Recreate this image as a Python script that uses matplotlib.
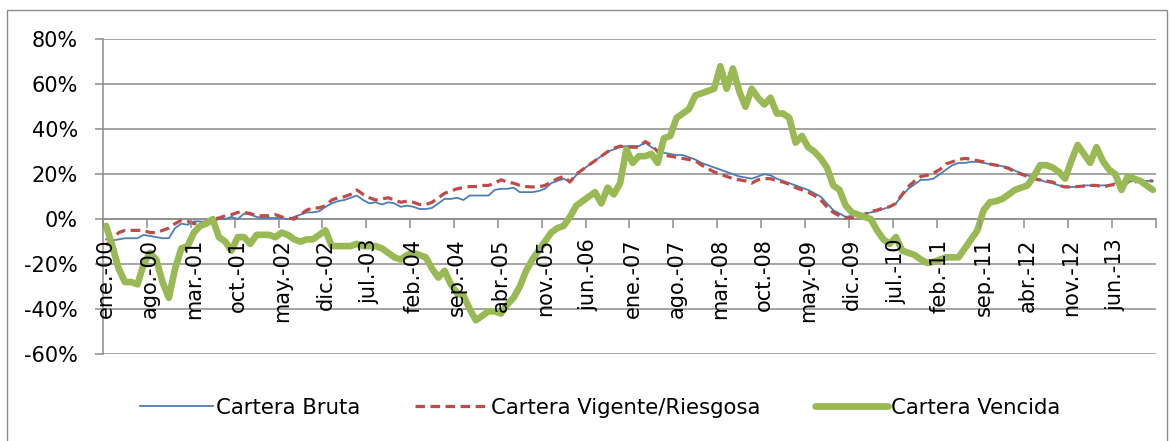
import matplotlib
matplotlib.use("Agg")
import matplotlib.pyplot as plt
import matplotlib.patches as mpatches
import numpy as np

# ---------------- data (growth rates, %) ----------------
years = list(range(2000, 2014))
month_abbr = ["ene.", "feb.", "mar.", "abr.", "may.", "jun.",
              "jul.", "ago.", "sep.", "oct.", "nov.", "dic."]

cartera_bruta = [
    -9, -9.5, -9, -8.5, -8.5, -8.5, -7, -7.5, -8, -8.5, -8.5, -4,          # 2000
    -2, -2.5, -1, -1, -1.5, -1, 0, 0, 1, 0, 2.5, 2,                        # 2001
    1, 0.5, 0.5, 0.5, 0.5, 0, 1, 2, 3, 3, 3.5, 5.5,                        # 2002
    7, 8, 8.5, 9.5, 10.5, 8.5, 7, 7.5, 6.5, 7.5, 7, 5.5,                   # 2003
    6, 5.5, 4.5, 4.5, 5, 7, 9, 9, 9.5, 8.5, 10.5, 10.5,                    # 2004
    10.5, 10.5, 13, 13.5, 13.5, 14, 12, 12, 12, 12.5, 13.5, 16,            # 2005
    17, 18, 16.5, 19.5, 22, 24, 26, 28, 30, 31, 32, 32.5,                  # 2006
    32.5, 32.5, 34, 32, 30.5, 29.5, 29, 28.5, 28.5, 27.5, 26.5, 25,        # 2007
    24, 23, 22, 21, 20, 19, 18.5, 18, 19, 20, 19.5, 18,                    # 2008
    17, 16, 15, 14, 13, 11.5, 10, 7, 4, 2.5, 1, 1.5,                       # 2009
    2, 2.5, 3, 3.5, 4.5, 5.5, 7, 10.5, 13.5, 15.5, 17.5, 17.5,             # 2010
    18, 20, 22, 24, 25, 25, 25.5, 25.5, 25, 24.5, 24, 23.5,                # 2011
    23, 21.5, 20.5, 19.5, 18.5, 17.5, 16.5, 16, 15, 14.5, 14.3, 14.3,      # 2012
    15, 15, 15, 15, 15, 16, 16, 16.5, 17, 17, 17, 17,                      # 2013
]

cartera_vigente = [
    -11.5, -9, -6, -5, -5, -5, -5, -6, -6, -5, -4, -2,                     # 2000
    -0.5, -1, -2, -2, -1, 0, 0.5, 1.5, 2, 3, 3, 2.5,                       # 2001
    1.5, 1.5, 1.5, 2, 1, 0.5, 0, 2, 4, 5, 5, 6,                            # 2002
    8.5, 9.5, 10, 11, 13, 11, 9.5, 8.5, 9, 9.5, 8.5, 7.5,                  # 2003
    8, 7.5, 6.5, 6.5, 7.5, 9.5, 11.5, 12.5, 13.5, 14, 14.5, 14.5,          # 2004
    15, 15, 16, 17.5, 16.5, 16, 15, 14.5, 14.3, 14.3, 15, 16.5,            # 2005
    18, 19, 16.5, 20, 22, 24, 26, 28, 30, 31.5, 32.5, 32,                  # 2006
    32, 32, 34.5, 33, 30, 28.5, 28, 27.5, 27, 26.5, 26, 24,                # 2007
    22.5, 21, 20, 19, 18, 17.5, 17, 16, 17.5, 18, 18, 17,                  # 2008
    16.5, 15.5, 14, 13, 12, 10.5, 8.5, 5.5, 3, 1.5, 0.5, 0.5,              # 2009
    2, 2, 3.5, 4, 5, 5.5, 7, 11, 14.5, 17, 19, 19.5,                       # 2010
    20.5, 22, 24.5, 25.5, 26.5, 27, 26.7, 26, 25.5, 24.5, 24, 23.5,        # 2011
    22.5, 21, 20, 19, 18, 17.4, 17, 16.5, 15, 14.3, 14.3, 14.5,            # 2012
    14.7, 15, 15, 14.3, 15, 15.5, 16, 16.5, 16.5, 17, 17, 17,              # 2013
]

cartera_vencida = [
    -3, -12, -22, -28, -28, -29, -20, -15, -18, -28, -35, -22,             # 2000
    -13, -12, -6, -3, -2, 0, -8, -10, -14, -8, -8, -11,                    # 2001
    -7, -7, -7, -8, -6, -7, -9, -10, -9, -9, -7, -5,                       # 2002
    -12, -12, -12, -12, -11, -12, -12, -12, -13, -15, -17, -18,            # 2003
    -16, -15, -16, -17, -22, -26, -23, -29, -33, -34, -40, -45,            # 2004
    -43, -41, -41, -42, -38, -35, -30, -23, -18, -14, -10, -6,             # 2005
    -4, -3, 1, 6, 8, 10, 12, 7, 14, 11, 16, 31,                            # 2006
    25, 28, 28, 29, 25, 36, 37, 45, 47, 49, 55, 56,                        # 2007
    57, 58, 68, 58, 67, 57, 50, 58, 54, 51, 54, 47,                        # 2008
    47, 45, 34, 37, 32, 30, 27, 23, 15, 13, 6, 3,                          # 2009
    2, 1, 0, -5, -9, -11, -8, -14, -15, -16, -18, -19.5,                   # 2010
    -19, -18, -17, -17, -17, -13, -9, -5, 4, 7.5, 8, 9,                    # 2011
    11, 13, 14, 15, 19, 24, 24, 23, 21, 18, 26, 33,                        # 2012
    29, 25, 32, 26, 22, 20, 13, 19, 18, 17, 15, 13,                        # 2013
]

series_names = ["Cartera Bruta", "Cartera Vigente/Riesgosa", "Cartera Vencida"]
y_ticks = [-60, -40, -20, 0, 20, 40, 60, 80]
label_step = 7

# ---------------- derived ----------------
months = [f"{m}-{str(y)[2:]}" for y in years for m in month_abbr]
n = len(months)
x = np.arange(n)

# ---------------- figure ----------------
W, H, DPI = 1170, 441, 100
fig = plt.figure(figsize=(W / DPI, H / DPI), dpi=DPI)
plt.rcParams['font.family'] = ['DejaVu Sans']

# outer chart border
border = mpatches.Rectangle((7 / W, -0.05), (1167 - 7) / W, 1 - 10 / H + 0.05,
                            transform=fig.transFigure, fill=False,
                            edgecolor='#8c8c8c', linewidth=1.0)
fig.patches.append(border)

ax = fig.add_axes([103 / W, 1 - 354 / H, (1156 - 103) / W, (354 - 39.3) / H])

grid_col = '#8c8c8c'
for yt in y_ticks:
    ax.axhline(yt, color=grid_col, lw=1.1, zorder=0.5)

ax.plot(x, cartera_bruta, color='#4a7ebb', lw=1.3, zorder=2, label=series_names[0])
ax.plot(x, cartera_vigente, color='#be4b48', lw=2.3, linestyle=(0, (3, 1.7)),
        zorder=2.1, label=series_names[1])
ax.plot(x, cartera_vencida, color='#98b954', lw=4.8, zorder=2.2,
        solid_capstyle='round', solid_joinstyle='round', label=series_names[2])

ax.set_xlim(-0.5, n - 0.5)
ax.set_ylim(y_ticks[0], y_ticks[-1])

# y axis
ax.set_yticks(y_ticks)
ax.set_yticklabels([f"{v}%" for v in y_ticks], fontsize=15)
ax.tick_params(axis='y', direction='out', length=6, width=1.1, color=grid_col,
               pad=12, labelcolor='black')

# x axis crossing at 0
for s in ['top', 'right']:
    ax.spines[s].set_visible(False)
ax.spines['bottom'].set_position(('data', 0))
ax.spines['bottom'].set_color(grid_col)
ax.spines['bottom'].set_linewidth(1.1)
ax.spines['left'].set_color(grid_col)
ax.spines['left'].set_linewidth(1.1)

lab_pos = x[::label_step]
ax.set_xticks(lab_pos)
ax.set_xticklabels([months[i] for i in lab_pos], rotation=90, fontsize=15,
                   va='top', ha='center')
ax.set_xticks(np.arange(-0.5, n, label_step), minor=True)
ax.tick_params(axis='x', which='major', length=0, pad=14, labelcolor='black')
ax.tick_params(axis='x', which='minor', direction='out', length=6.5, width=1.1,
               color=grid_col)
ax.xaxis.set_zorder(3)
ax.spines['bottom'].set_zorder(1)

fig.legend(loc='center', bbox_to_anchor=(0.513, 0.075), ncol=3, frameon=False,
           fontsize=15.3, handlelength=3.4, handletextpad=0.15, columnspacing=2.6)

fig.savefig("out.png", dpi=DPI)
